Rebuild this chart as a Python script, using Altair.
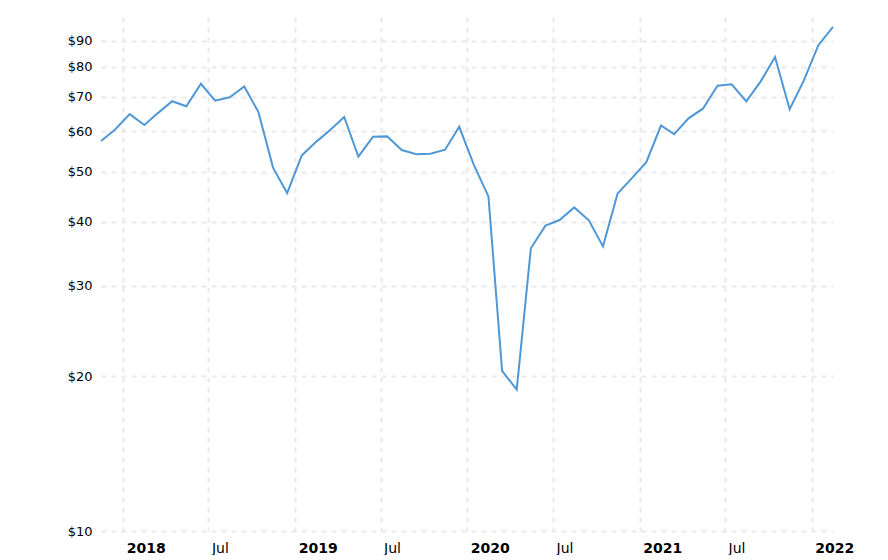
import altair as alt
import pandas as pd

months = [
    "2017-11", "2017-12",
    "2018-01", "2018-02", "2018-03", "2018-04", "2018-05", "2018-06",
    "2018-07", "2018-08", "2018-09", "2018-10", "2018-11", "2018-12",
    "2019-01", "2019-02", "2019-03", "2019-04", "2019-05", "2019-06",
    "2019-07", "2019-08", "2019-09", "2019-10", "2019-11", "2019-12",
    "2020-01", "2020-02", "2020-03", "2020-04", "2020-05", "2020-06",
    "2020-07", "2020-08", "2020-09", "2020-10", "2020-11", "2020-12",
    "2021-01", "2021-02", "2021-03", "2021-04", "2021-05", "2021-06",
    "2021-07", "2021-08", "2021-09", "2021-10", "2021-11", "2021-12",
    "2022-01", "2022-02",
]
prices = [
    57.40, 60.42,
    64.73, 61.64, 64.94, 68.57, 67.04, 74.15,
    68.76, 69.80, 73.25, 65.31, 50.93, 45.41,
    53.79, 57.22, 60.14, 63.91, 53.50, 58.47,
    58.58, 55.10, 54.07, 54.18, 55.17, 61.14,
    51.56, 44.76, 20.48, 18.84, 35.49, 39.27,
    40.27, 42.61, 40.22, 35.79, 45.34, 48.52,
    52.20, 61.50, 59.16, 63.58, 66.32, 73.47,
    73.95, 68.50, 75.03, 83.57, 66.18, 75.21,
    88.15, 95.72,
]
y_ticks = [10, 20, 30, 40, 50, 60, 70, 80, 90]
x_tick_years = [2018, 2019, 2020, 2021, 2022]

df = pd.DataFrame({"date": [m + "-15T00:00:00" for m in months], "price": prices})

x_values = []
for yr in x_tick_years:
    x_values.append(alt.DateTime(year=yr, month=1, date=1))
    if yr < 2022:
        x_values.append(alt.DateTime(year=yr, month=7, date=1))

FONT = "DejaVu Sans"
GRID = "#e9e9e9"

chart = alt.Chart(df).mark_line(color="#5097d6", strokeWidth=2).encode(
    x=alt.X(
        "date:T",
        scale=alt.Scale(
            domain=[alt.DateTime(year=2017, month=11, date=15),
                    alt.DateTime(year=2022, month=2, date=15)],
            nice=False,
        ),
        axis=alt.Axis(
            values=x_values,
            title=None,
            ticks=False,
            domain=False,
            grid=True,
            gridColor=GRID,
            gridDash=[5, 5],
            gridWidth=2,
            labelExpr="month(datum.value) == 0 ? timeFormat(datum.value, '%Y') : timeFormat(datum.value, '%b')",
            labelFontWeight={"condition": {"test": "month(datum.value) == 0", "value": "bold"}, "value": "normal"},
            labelAlign="left",
            labelOffset=3,
            labelPadding=10,
            labelFont=FONT,
            labelFontSize=14,
            labelColor="#000000",
            labelFlush=False,
            labelOverlap=False,
        ),
    ),
    y=alt.Y(
        "price:Q",
        scale=alt.Scale(type="log", domain=[10, 100], nice=False),
        axis=alt.Axis(
            values=y_ticks,
            title=None,
            ticks=False,
            domain=False,
            grid=True,
            gridColor=GRID,
            gridDash=[5, 5],
            gridWidth=2,
            labelExpr="'$' + datum.value",
            labelPadding=9,
            labelFont=FONT,
            labelFontSize=13,
            labelColor="#000000",
            labelOverlap=False,
        ),
    ),
).properties(
    width=732,
    height=514,
    autosize=alt.AutoSizeParams(type="none"),
    padding={"left": 93, "top": 9, "right": 40, "bottom": 24},
).configure_view(stroke=None)

chart.save("out.html", embed_options={"renderer": "svg", "actions": False})
